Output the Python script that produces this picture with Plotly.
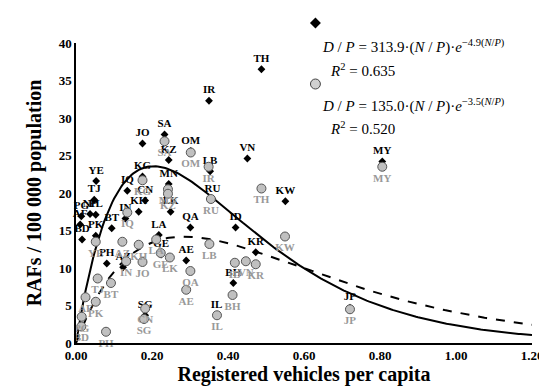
import numpy as np
import plotly.graph_objects as go

# Black diamonds (labels above)
d_labels = ["YE","TJ","PG","NP","PL","AF","PK","BD","BT","IQ","IN","KH","KG","CN","JO","SA","KZ","OM",
            "MN","LK","LB","RU","QA","ID","LA","GE","AE","AZ","PH","SG","BH","IL","KR","KW","VN","TH",
            "IR","MY","JP"]
d_x = [0.053,0.048,0.014,0.037,0.052,0.011,0.052,0.016,0.094,0.135,0.130,0.165,0.175,0.182,0.175,0.233,
       0.244,0.302,0.244,0.249,0.353,0.359,0.301,0.420,0.218,0.224,0.290,0.124,0.081,0.182,0.414,0.370,
       0.473,0.551,0.451,0.488,0.350,0.806,0.721]
d_y = [21.6,19.1,16.9,17.2,17.1,15.8,14.3,13.8,15.3,20.3,16.6,17.5,22.2,19.0,26.6,27.8,
       24.4,25.6,21.2,17.5,22.9,19.2,15.4,15.4,14.4,11.8,11.0,10.1,10.6,3.7,8.0,3.7,
       12.1,18.9,24.6,36.5,32.3,24.2,4.7]

# Grey circles (labels below)
c_labels = ["YE","IQ","IN","KH","AZ","JO","LA","GE","LK","LB","QA","AE","BH","IL","ID","VN","KR","RU",
            "IR","MN","KZ","SA","OM","TH","KW","JP","MY","CN","SG","KG","TJ","BT","AF","PK","PG","BD","PH"]
c_x = [0.052,0.135,0.132,0.165,0.122,0.175,0.211,0.223,0.247,0.351,0.301,0.290,0.412,0.371,0.418,0.447,
       0.473,0.355,0.349,0.242,0.242,0.233,0.302,0.488,0.550,0.721,0.806,0.182,0.179,0.175,0.057,0.092,
       0.025,0.052,0.015,0.014,0.079]
c_y = [13.5,17.4,10.9,13.1,13.5,10.8,13.8,12.0,11.4,13.2,9.6,7.1,6.4,3.7,10.7,10.9,
       10.5,19.2,23.5,20.5,19.9,26.9,25.4,20.6,14.2,4.5,23.5,4.6,3.2,21.7,8.6,8.0,
       6.1,5.5,3.5,2.2,1.5]

# Fitted models printed on the chart: D/P = a * (N/P) * exp(b * N/P)
fit1_a, fit1_b, fit1_r2 = 313.9, -4.9, 0.635
fit2_a, fit2_b, fit2_r2 = 135.0, -3.5, 0.520

x_ticks = [0.0, 0.2, 0.4, 0.6, 0.8, 1.0, 1.2]
x_ticktext = ["0.00", "0.20", "0.40", "0.60", "0.80", "1.00", "1.20"]
y_ticks = [0, 5, 10, 15, 20, 25, 30, 35, 40]

FONT = "Liberation Serif"
xs = np.linspace(0, 1.2, 241)

fig = go.Figure()
fig.add_trace(go.Scatter(x=xs, y=fit1_a * xs * np.exp(fit1_b * xs), mode="lines",
                         line=dict(color="black", width=2), hoverinfo="skip"))
fig.add_trace(go.Scatter(x=xs, y=fit2_a * xs * np.exp(fit2_b * xs), mode="lines",
                         line=dict(color="black", width=2, dash="dash"), hoverinfo="skip"))
fig.add_trace(go.Scatter(x=d_x, y=d_y, mode="markers+text", text=d_labels, textposition="top center",
                         marker=dict(symbol="diamond", size=6, color="black"),
                         textfont=dict(family=FONT, size=11, color="black", weight="bold"),
                         cliponaxis=False))
fig.add_trace(go.Scatter(x=c_x, y=c_y, mode="markers+text", text=c_labels, textposition="bottom center",
                         marker=dict(symbol="circle", size=9, color="#c0c0c0",
                                     line=dict(color="#555555", width=1)),
                         textfont=dict(family=FONT, size=11, color="#999999", weight="bold"),
                         cliponaxis=False))

# legend-like symbols next to the equations (paper coords)
L, R, T, B = 68, 527, 35, 335
def px2paper(px, py):
    return (px - L) / (R - L), (B - py) / (B - T)
dx, dy = 5.5 / (R - L), 5.5 / (B - T)
cx, cy = px2paper(309, 15)
fig.add_shape(type="path", xref="paper", yref="paper",
              path=f"M {cx},{cy+dy} L {cx+dx},{cy} L {cx},{cy-dy} L {cx-dx},{cy} Z",
              fillcolor="black", line=dict(color="black", width=0))
cx2, cy2 = px2paper(309, 76)
rx, ry = 5 / (R - L), 5 / (B - T)
fig.add_shape(type="circle", xref="paper", yref="paper", x0=cx2-rx, x1=cx2+rx, y0=cy2-ry, y1=cy2+ry,
              fillcolor="#d0d0d0", line=dict(color="#444444", width=1))

def eq_text(a, b):
    return (f"<i>D</i> / <i>P</i> = {a:.1f}·(<i>N</i> / <i>P</i>)·<i>e</i>"
            f"<sup>{b:.1f}(<i>N</i>/<i>P</i>)</sup>").replace("-", "−")

for (a, b, r2, py_eq, py_r2) in [(fit1_a, fit1_b, fit1_r2, 38, 62), (fit2_a, fit2_b, fit2_r2, 98, 120)]:
    ex, ey = px2paper(314, py_eq)
    fig.add_annotation(xref="paper", yref="paper", x=ex, y=ey, xanchor="left", yanchor="middle",
                       text=eq_text(a, b), showarrow=False, font=dict(family=FONT, size=15, color="black"))
    rx_, ry_ = px2paper(322, py_r2)
    fig.add_annotation(xref="paper", yref="paper", x=rx_, y=ry_, xanchor="left", yanchor="middle",
                       text=f"<i>R</i><sup>2</sup> = {r2:.3f}", showarrow=False,
                       font=dict(family=FONT, size=15, color="black"))

fig.update_layout(
    width=547, height=387, margin=dict(l=L, r=547 - R, t=T, b=387 - B),
    paper_bgcolor="white", plot_bgcolor="white", showlegend=False,
    font=dict(family=FONT, color="black"),
    xaxis=dict(range=[0, 1.2], tickvals=x_ticks, ticktext=x_ticktext, showgrid=False, zeroline=False,
               showline=True, linecolor="black", linewidth=1.5, ticks="",
               tickfont=dict(family=FONT, size=13, color="black", weight="bold"),
               title=dict(text="Registered vehicles per capita", standoff=2,
                          font=dict(family=FONT, size=20, color="black", weight="bold"))),
    yaxis=dict(range=[0, 40], tickvals=y_ticks, showgrid=False, zeroline=False,
               showline=True, linecolor="black", linewidth=1.5, ticks="",
               tickfont=dict(family=FONT, size=13, color="black", weight="bold"),
               title=dict(text="RAFs / 100 000 population", standoff=12,
                          font=dict(family=FONT, size=20, color="black", weight="bold"))),
)
fig.write_html("out.html")
